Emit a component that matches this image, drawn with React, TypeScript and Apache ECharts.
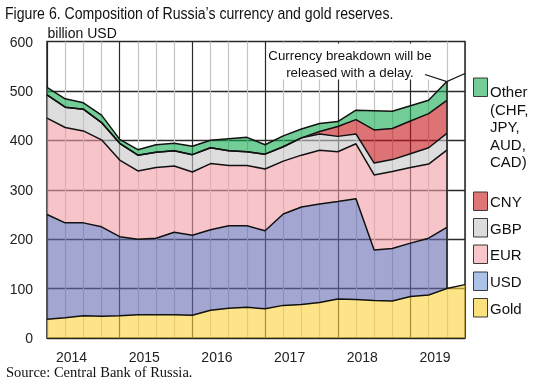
import React, { useEffect, useRef } from 'react';
import * as echarts from 'echarts';

const quarters = [
  '2014Q1', '2014Q2', '2014Q3', '2014Q4', '2015Q1', '2015Q2', '2015Q3', '2015Q4',
  '2016Q1', '2016Q2', '2016Q3', '2016Q4', '2017Q1', '2017Q2', '2017Q3', '2017Q4',
  '2018Q1', '2018Q2', '2018Q3', '2018Q4', '2019Q1', '2019Q2', '2019Q3', '2019Q4',
];
const yearLabels = ['2014', '2015', '2016', '2017', '2018', '2019'];
const gold = [38, 41, 45, 44, 45, 47, 47, 47, 46, 56, 60, 62, 59, 66, 68, 72, 79, 78, 76, 75, 84, 87, 100, 108];
const usd = [212, 192, 188, 181, 160, 153, 155, 167, 162, 163, 167, 165, 158, 185, 197, 199, 197, 204, 102, 106, 108, 115, 124];
const eur = [195, 193, 186, 176, 155, 138, 143, 134, 128, 134, 122, 122, 125, 107, 105, 109, 101, 111, 152, 156, 153, 150, 156];
const gbp = [47, 41, 44, 35, 34, 32, 31, 31, 35, 32, 30, 28, 30, 29, 35, 33, 31, 20, 24, 24, 28, 33, 34];
const cny = [0, 0, 0, 0, 0, 0, 0, 0, 0, 0, 0, 0, 0, 0, 0, 5, 20, 29, 67, 63, 66, 69, 67];
const other = [15, 17, 13, 15, 8, 11, 15, 15, 17, 15, 24, 29, 19, 22, 18, 16, 10, 19, 39, 35, 31, 27, 38];
const yTicks = [0, 100, 200, 300, 400, 500, 600];

const FONT = 'Liberation Sans, Arial, sans-serif';

const seriesDefs = [
  { name: 'Gold', data: gold, fill: 'rgb(252,210,57)', legend: '#fbe07e', label: 'Gold' },
  { name: 'USD', data: usd, fill: 'rgb(102,107,177)', legend: '#aac3e6', label: 'USD' },
  { name: 'EUR', data: eur, fill: 'rgb(242,157,165)', legend: '#f7c5ca', label: 'EUR' },
  { name: 'GBP', data: gbp, fill: 'rgb(198,198,198)', legend: '#dcdcdc', label: 'GBP' },
  { name: 'CNY', data: cny, fill: 'rgb(200,22,27)', legend: '#de7676', label: 'CNY' },
  { name: 'Other', data: other, fill: 'rgb(22,172,80)', legend: '#74cd97', label: 'Other\n(CHF,\nJPY,\nAUD,\nCAD)' },
];

export default function App() {
  const ref = useRef<HTMLDivElement>(null);

  useEffect(() => {
    if (!ref.current) return;
    const chart = echarts.init(ref.current, undefined, { renderer: 'svg' });
    const last = usd.length - 1;
    const totalLast = gold[last] + usd[last] + eur[last] + gbp[last] + cny[last] + other[last];

    const series: any[] = seriesDefs.map((s) => ({
      name: s.name,
      type: 'line',
      stack: 'total',
      symbol: 'none',
      silent: true,
      xAxisIndex: 0,
      yAxisIndex: 0,
      data: s.data,
      lineStyle: { color: '#111', width: 1.5 },
      areaStyle: { color: s.fill, opacity: 0.6 },
      z: 2,
    }));
    series[series.length - 1].markLine = {
      symbol: 'none',
      silent: true,
      label: { show: false },
      lineStyle: { color: '#111', width: 1.5, type: 'solid' },
      data: [[{ coord: [last, gold[last]] }, { coord: [last, totalLast] }]],
    };

    const legendTop = [78, 192, 218.5, 245, 272, 298.5];
    const legendOrder = [...seriesDefs].reverse();
    const legendGraphics: any[] = [];
    legendOrder.forEach((s, k) => {
      const y = legendTop[k];
      legendGraphics.push({
        type: 'rect',
        shape: { x: 473.5, y, width: 14, height: 18.5 },
        style: { fill: s.legend, stroke: '#3a3a3a', lineWidth: 1 },
        z: 10,
      });
      legendGraphics.push({
        type: 'text',
        x: 490,
        y: k === 0 ? y + 5 : y + 9.5,
        style: {
          text: s.label,
          fontSize: 15,
          fontFamily: FONT,
          fill: '#111',
          align: 'left',
          verticalAlign: k === 0 ? 'top' : 'middle',
          lineHeight: 17.5,
        },
        z: 10,
      });
    });

    chart.setOption({
      animation: false,
      textStyle: { fontFamily: FONT },
      grid: { left: 47, right: 75, top: 41.5, bottom: 50 },
      xAxis: [
        {
          type: 'category',
          data: quarters,
          boundaryGap: false,
          axisLine: { show: true, lineStyle: { color: '#222', width: 1.5 } },
          axisTick: { show: false },
          axisLabel: { show: false },
          splitLine: {
            show: true,
            interval: 0,
            lineStyle: { color: ['#2a2a2a', '#c4c4c4', '#c4c4c4', '#c4c4c4'], width: 1.2 },
          },
        },
        {
          type: 'value',
          position: 'bottom',
          min: 0,
          max: quarters.length - 1,
          axisLine: { show: false },
          axisTick: { show: false },
          splitLine: { show: false },
          axisLabel: {
            customValues: yearLabels.map((_, k) => 4 * k + 1.35),
            formatter: (v: number) => yearLabels[Math.round((v - 1.35) / 4)] ?? '',
            fontSize: 14,
            color: '#222',
            margin: 12,
            fontFamily: FONT,
          },
        },
      ],
      yAxis: [
        {
          type: 'value',
          min: yTicks[0],
          max: yTicks[yTicks.length - 1],
          interval: 100,
          axisLine: { show: true, lineStyle: { color: '#222', width: 1.5 } },
          axisTick: { show: false },
          splitLine: { show: true, lineStyle: { color: '#2a2a2a', width: 1.3 } },
          axisLabel: { fontSize: 14, color: '#222', margin: 14, fontFamily: FONT },
        },
        {
          type: 'value',
          position: 'right',
          min: yTicks[0],
          max: yTicks[yTicks.length - 1],
          interval: 100,
          axisLine: { show: true, lineStyle: { color: '#222', width: 1.5 } },
          axisTick: { show: false },
          splitLine: { show: false },
          axisLabel: { show: false },
        },
      ],
      series,
    });

    const pData = chart.convertToPixel({ xAxisIndex: 0, yAxisIndex: 0 }, [last, totalLast]) as number[];
    const pEdge = chart.convertToPixel({ xAxisIndex: 0, yAxisIndex: 0 }, [quarters.length - 1, 0]) as number[];

    chart.setOption({
      graphic: [
        {
          type: 'text',
          x: 5,
          y: 13,
          scaleX: 0.83,
          style: {
            text: 'Figure 6. Composition of Russia\u2019s currency and gold reserves.',
            fontSize: 17,
            fontFamily: FONT,
            fill: '#111',
            align: 'left',
            verticalAlign: 'middle',
          },
        },
        {
          type: 'text',
          x: 47.5,
          y: 32.5,
          style: { text: 'billion USD', fontSize: 14, fontFamily: FONT, fill: '#111', align: 'left', verticalAlign: 'middle' },
        },
        {
          type: 'text',
          x: 6,
          y: 372,
          style: {
            text: 'Source: Central Bank of Russia.',
            fontSize: 14.5,
            fontFamily: 'Liberation Serif, Times New Roman, serif',
            fill: '#111',
            align: 'left',
            verticalAlign: 'middle',
          },
        },
        {
          type: 'rect',
          shape: { x: 268, y: 43.5, width: 178, height: 36 },
          style: { fill: '#fff' },
          z: 5,
        },
        {
          type: 'text',
          x: 350,
          y: 64,
          style: {
            text: 'Currency breakdown will be\nreleased with a delay.',
            fontSize: 13.3,
            fontFamily: FONT,
            fill: '#111',
            align: 'center',
            verticalAlign: 'middle',
            lineHeight: 16.5,
          },
          z: 6,
        },
        {
          type: 'polyline',
          shape: { points: [[425, 74.5], [pData[0], pData[1]], [pEdge[0], pData[1] - 8]] },
          style: { stroke: '#111', lineWidth: 1.2, fill: 'none' },
          z: 6,
        },
        ...legendGraphics,
      ],
    });

    return () => chart.dispose();
  }, []);

  return <div ref={ref} style={{ position: 'fixed', left: 0, top: 0, width: 540, height: 388 }} />;
}
